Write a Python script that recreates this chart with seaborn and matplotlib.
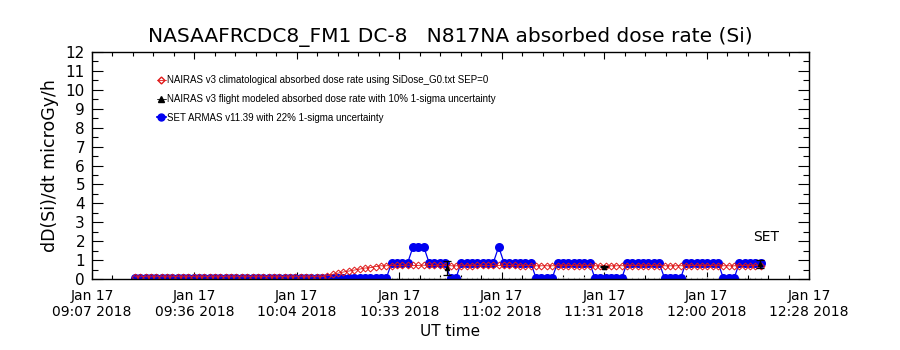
import matplotlib
matplotlib.use("Agg")
import matplotlib.pyplot as plt
from matplotlib.lines import Line2D
from matplotlib.ticker import FixedLocator, MultipleLocator
import numpy as np
import pandas as pd
import seaborn as sns

# Time in minutes after 09:07 UT, Jan 17 2018
time_min = [
    12.0, 13.5, 15.0, 16.5, 18.0, 19.5, 21.0, 22.5, 24.0, 25.5,
    27.0, 28.5, 30.0, 31.5, 33.0, 34.5, 36.0, 37.5, 39.0, 40.5,
    42.0, 43.5, 45.0, 46.5, 48.0, 49.5, 51.0, 52.5, 54.0, 55.5,
    57.0, 58.5, 60.0, 61.5, 63.0, 64.5, 66.0, 67.5, 69.0, 70.5,
    72.0, 73.5, 75.0, 76.5, 78.0, 79.5, 81.0, 82.5, 84.0, 85.5,
    87.0, 88.5, 90.0, 91.5, 93.0, 94.5, 96.0, 97.5, 99.0, 100.5,
    102.0, 103.5, 105.0, 106.5, 108.0, 109.5, 111.0, 112.5, 114.0, 115.5,
    117.0, 118.5, 120.0, 121.5, 123.0, 124.5, 126.0, 127.5, 129.0, 130.5,
    132.0, 133.5, 135.0, 136.5, 138.0, 139.5, 141.0, 142.5, 144.0, 145.5,
    147.0, 148.5, 150.0, 151.5, 153.0, 154.5, 156.0, 157.5, 159.0, 160.5,
    162.0, 163.5, 165.0, 166.5, 168.0, 169.5, 171.0, 172.5, 174.0, 175.5,
    177.0, 178.5, 180.0, 181.5, 183.0, 184.5, 186.0, 187.5,
]

# NAIRAS v3 climatological dose rate (microGy/h)
clim_dose = [
    0.12, 0.12, 0.12, 0.12, 0.12, 0.12, 0.12, 0.12, 0.12, 0.12,
    0.12, 0.12, 0.12, 0.12, 0.12, 0.12, 0.12, 0.12, 0.12, 0.12,
    0.12, 0.12, 0.12, 0.12, 0.12, 0.12, 0.12, 0.12, 0.12, 0.12,
    0.12, 0.12, 0.12, 0.12, 0.12, 0.13, 0.18, 0.25, 0.31, 0.37,
    0.42, 0.47, 0.52, 0.58, 0.60, 0.66, 0.70, 0.70, 0.71, 0.72,
    0.72, 0.73, 0.72, 0.72, 0.73, 0.72, 0.72, 0.72, 0.71, 0.70,
    0.70, 0.70, 0.71, 0.71, 0.72, 0.72, 0.72, 0.72, 0.72, 0.72,
    0.72, 0.72, 0.71, 0.71, 0.71, 0.70, 0.70, 0.70, 0.70, 0.70,
    0.71, 0.71, 0.71, 0.71, 0.71, 0.71, 0.70, 0.70, 0.70, 0.70,
    0.70, 0.70, 0.71, 0.71, 0.71, 0.71, 0.71, 0.71, 0.71, 0.70,
    0.70, 0.70, 0.70, 0.71, 0.71, 0.71, 0.71, 0.71, 0.71, 0.71,
    0.70, 0.70, 0.70, 0.71, 0.71, 0.71, 0.71, 0.71,
]

# SET ARMAS v11.39 measured dose rate
armas_dose = [
    0.04, 0.04, 0.04, 0.04, 0.04, 0.04, 0.04, 0.04, 0.04, 0.04,
    0.04, 0.04, 0.04, 0.04, 0.04, 0.04, 0.04, 0.04, 0.04, 0.04,
    0.04, 0.04, 0.04, 0.04, 0.04, 0.04, 0.04, 0.04, 0.04, 0.04,
    0.04, 0.04, 0.04, 0.04, 0.04, 0.04, 0.04, 0.04, 0.04, 0.04,
    0.04, 0.04, 0.04, 0.04, 0.04, 0.04, 0.04, 0.04, 0.86, 0.86,
    0.86, 0.86, 1.70, 1.70, 1.70, 0.86, 0.86, 0.86, 0.86, 0.04,
    0.04, 0.86, 0.86, 0.86, 0.86, 0.86, 0.86, 0.86, 1.70, 0.86,
    0.86, 0.86, 0.86, 0.86, 0.86, 0.04, 0.04, 0.04, 0.04, 0.86,
    0.86, 0.86, 0.86, 0.86, 0.86, 0.86, 0.04, 0.04, 0.04, 0.04,
    0.04, 0.04, 0.86, 0.86, 0.86, 0.86, 0.86, 0.86, 0.86, 0.04,
    0.04, 0.04, 0.04, 0.86, 0.86, 0.86, 0.86, 0.86, 0.86, 0.86,
    0.04, 0.04, 0.04, 0.86, 0.86, 0.86, 0.86, 0.86,
]

# NAIRAS v3 flight modeled dose rate (mostly on the zero line)
flight_dose = [
    0.0, 0.0, 0.0, 0.0, 0.0, 0.0, 0.0, 0.0, 0.0, 0.0,
    0.0, 0.0, 0.0, 0.0, 0.0, 0.0, 0.0, 0.0, 0.0, 0.0,
    0.0, 0.0, 0.0, 0.0, 0.0, 0.0, 0.0, 0.0, 0.0, 0.0,
    0.0, 0.0, 0.0, 0.0, 0.0, 0.0, 0.0, 0.0, 0.0, 0.0,
    0.0, 0.0, 0.0, 0.0, 0.0, 0.0, 0.0, 0.0, 0.0, 0.0,
    0.0, 0.0, 0.0, 0.0, 0.0, 0.0, 0.0, 0.0, 0.0, 0.0,
    0.0, 0.0, 0.0, 0.0, 0.0, 0.0, 0.0, 0.0, 0.0, 0.0,
    0.0, 0.0, 0.0, 0.0, 0.0, 0.0, 0.0, 0.0, 0.0, 0.0,
    0.0, 0.0, 0.0, 0.0, 0.0, 0.0, 0.0, 0.0, 0.0, 0.0,
    0.0, 0.0, 0.0, 0.0, 0.0, 0.0, 0.0, 0.0, 0.0, 0.0,
    0.0, 0.0, 0.0, 0.0, 0.0, 0.0, 0.0, 0.0, 0.0, 0.0,
    0.0, 0.0, 0.0, 0.0, 0.0, 0.0, 0.0, 0.0,
]

# the few flight-modeled points off the zero line, with error bars
flight_t = [99.5, 143.5, 187.2]
flight_v = [0.58, 0.66, 0.80]
flight_err = [0.37, 0.02, 0.20]

tick_labels = [
    "Jan 17\n09:07 2018", "Jan 17\n09:36 2018", "Jan 17\n10:04 2018",
    "Jan 17\n10:33 2018", "Jan 17\n11:02 2018", "Jan 17\n11:31 2018",
    "Jan 17\n12:00 2018", "Jan 17\n12:28 2018",
]
t_end = 201.0

df = pd.DataFrame({"t": time_min, "clim": clim_dose, "armas": armas_dose, "flight": flight_dose})

sns.set_style("ticks")
plt.rcParams["font.family"] = ["DejaVu Sans"]
plt.rcParams["xtick.direction"] = "in"
plt.rcParams["ytick.direction"] = "in"
for k in ["text.color", "axes.labelcolor", "xtick.color", "ytick.color", "axes.edgecolor"]:
    plt.rcParams[k] = "black"

fig = plt.figure(figsize=(9, 3.5), dpi=100)
ax = fig.add_axes([92 / 900, 71 / 350, 717 / 900, 227 / 350])

red = "#e01818"
blue = "#0000f0"

sns.lineplot(data=df, x="t", y="flight", ax=ax, color="black", lw=0.8,
             marker="^", markersize=3, markeredgewidth=0.5, estimator=None, sort=False)
sns.lineplot(data=df, x="t", y="armas", ax=ax, color=blue, lw=0.9,
             marker="o", markersize=6.5, markeredgewidth=0, estimator=None, sort=False)
sns.lineplot(data=df, x="t", y="clim", ax=ax, color=red, lw=0.6,
             marker="D", markersize=3.5, markerfacecolor="none",
             markeredgecolor=red, markeredgewidth=0.7, estimator=None, sort=False)
ax.errorbar(flight_t, flight_v, yerr=flight_err, fmt="^", color="black",
            ms=3, lw=0.9, capsize=3, capthick=0.9)

ax.text(flight_t[-1] - 2, 2.2, "SET", fontsize=10, ha="left", va="center")

ax.set_xlim(0, t_end)
ax.set_ylim(0, 12)
ax.xaxis.set_major_locator(FixedLocator(np.linspace(0, t_end, 8)))
ax.xaxis.set_minor_locator(FixedLocator(np.linspace(0, t_end, 36)))
ax.set_xticklabels(tick_labels, fontsize=10)
ax.yaxis.set_major_locator(MultipleLocator(1))
ax.yaxis.set_minor_locator(MultipleLocator(0.5))
ax.tick_params(axis="y", which="major", length=8, width=0.8, labelsize=11, pad=5, right=True)
ax.tick_params(axis="y", which="minor", length=4, width=0.8, right=True)
ax.tick_params(axis="x", which="major", length=5, width=0.8, pad=7, top=True)
ax.tick_params(axis="x", which="minor", length=3, width=0.8, top=True)
for s in ax.spines.values():
    s.set_linewidth(1.0)

ax.set_xlabel("UT time", fontsize=11, labelpad=4)
ax.set_ylabel("dD(Si)/dt microGy/h", fontsize=12.5, labelpad=5)
ax.set_title("NASAAFRCDC8_FM1 DC-8   N817NA absorbed dose rate (Si)", fontsize=14.5, pad=7)

handles = [
    Line2D([], [], color=red, marker="D", ms=3.5, mfc="none", lw=0.6),
    Line2D([], [], color="black", marker="^", ms=4, lw=0.6),
    Line2D([], [], color=blue, marker="o", ms=5, lw=1.5),
]
labels = [
    "NAIRAS v3 climatological absorbed dose rate using SiDose_G0.txt SEP=0",
    "NAIRAS v3 flight modeled absorbed dose rate with 10% 1-sigma uncertainty",
    "SET ARMAS v11.39 with 22% 1-sigma uncertainty",
]
ax.legend(handles, labels, loc="upper left", bbox_to_anchor=(0.085, 0.915),
          frameon=False, handlelength=0.9, handletextpad=0.15, labelspacing=0.9,
          borderaxespad=0, prop={"family": "Liberation Sans", "size": 7})

fig.savefig("out.png", dpi=100)
